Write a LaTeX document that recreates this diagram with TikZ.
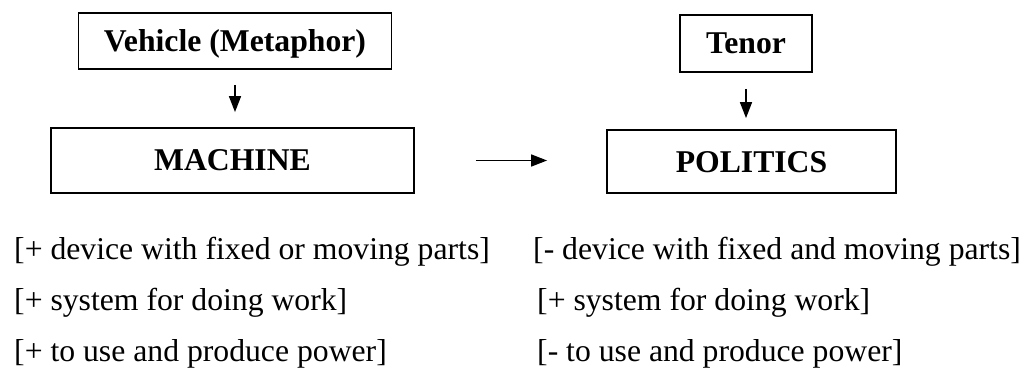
\documentclass[tikz,border=0pt]{standalone}
\usepackage{fontspec}
\setmainfont{Liberation Serif}
\usetikzlibrary{arrows.meta}

\begin{document}
\begin{tikzpicture}[x=1pt, y=-1pt,
  box/.style={draw, line width=1.8pt, inner sep=0pt, text height=21pt, text depth=0pt,
    font=\fontsize{31.7}{34}\selectfont\bfseries},
  feat/.style={anchor=base west, inner sep=0pt, font=\fontsize{31.7}{34}\selectfont},
  link/.style={line width=1.6pt, -{Triangle[length=16pt, width=12pt]}}
]
  % page frame
  \useasboundingbox (0,0) rectangle (1031,377);

  % concept boxes
  \node[box, minimum width=313pt, minimum height=56pt] (veh) at (235,41) {Vehicle (Metaphor)};
  \node[box, minimum width=363pt, minimum height=65pt] (mach) at (232.5,160.5) {MACHINE};
  \node[box, minimum width=132pt, minimum height=57pt] (ten) at (746,43.5) {Tenor};
  \node[box, minimum width=289pt, minimum height=63pt] (pol) at (751.5,161.5) {POLITICS};

  % arrows
  \draw[link, shorten <=15pt, shorten >=15pt] (veh.south) -- (veh.south |- mach.north);
  \draw[link, shorten <=16pt, shorten >=11pt] (ten.south) -- (ten.south |- pol.north);
  \draw[link, shorten <=61pt, shorten >=59pt] (mach.east) -- (pol.west |- mach.east);

  % semantic features
  \node[feat] (m1) at (14,259) {[+ device with fixed or moving parts]};
  \node[feat] (m2) at (14,310) {[+ system for doing work]};
  \node[feat] (m3) at (14,361) {[+ to use and produce power]};
  \node[feat] (p1) at (533,259) {[- device with fixed and moving parts]};
  \node[feat] (p2) at (537,310) {[+ system for doing work]};
  \node[feat] (p3) at (537,361) {[- to use and produce power]};
\end{tikzpicture}
\end{document}
